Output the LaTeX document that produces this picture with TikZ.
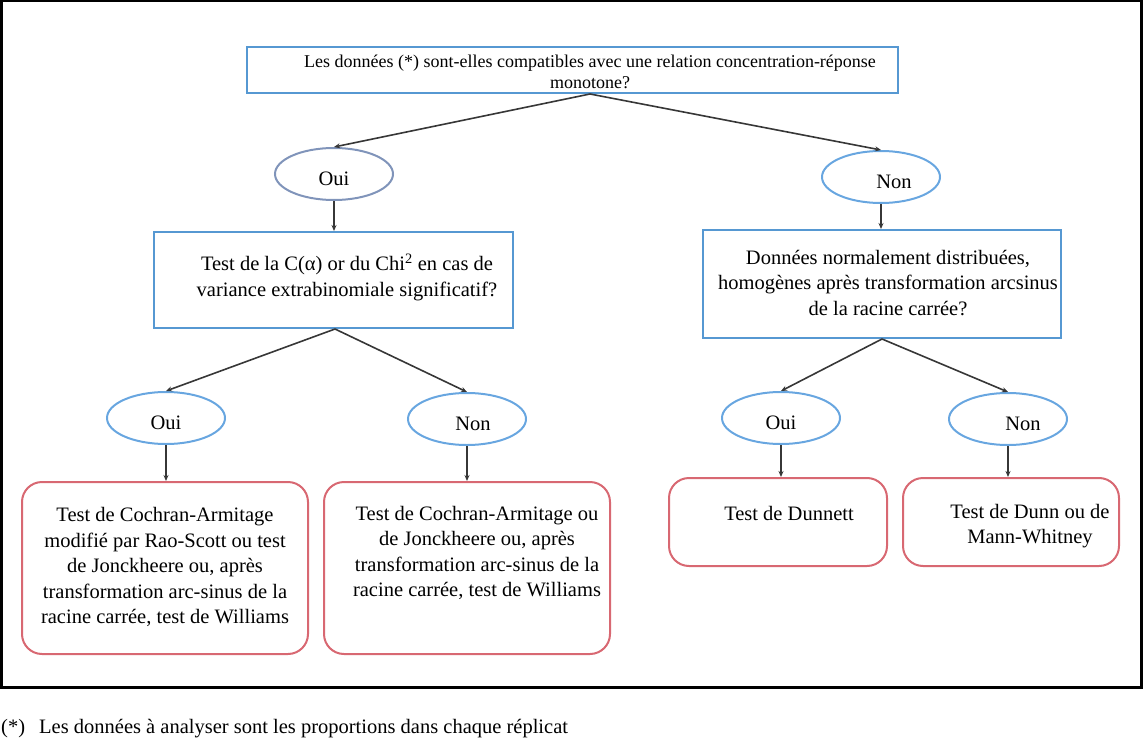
\documentclass[tikz,border=0pt]{standalone}
\usepackage{fontspec}
\setmainfont{Liberation Serif}
\usetikzlibrary{arrows.meta,shapes.geometric}
\definecolor{qblue}{RGB}{86,152,210}
\definecolor{ogray}{RGB}{128,148,186}
\definecolor{oblue}{RGB}{104,166,224}
\definecolor{rred}{RGB}{216,104,114}
\definecolor{arrowgray}{RGB}{55,55,55}
\tikzset{
  qbox/.style={draw=qblue, line width=2pt, rectangle, inner sep=0pt},
  oval/.style={draw=oblue, line width=2pt, ellipse, minimum width=118pt, minimum height=52pt, inner sep=0pt, text height=22pt, text depth=0pt, font=\fontsize{20.5}{24}\selectfont},
  rbox/.style={draw=rred, line width=2pt, rounded corners=20pt, inner sep=0pt},
  txt/.style={align=center, inner sep=0pt, font=\fontsize{20.5}{25.5}\selectfont},
  flow/.style={-{Stealth[length=6pt,width=5pt]}, draw=arrowgray, line width=1.6pt},
}
\begin{document}
\begin{tikzpicture}[x=1pt, y=-1pt]
    \useasboundingbox (0,0) rectangle (1143,741);
    \draw[line width=2.5pt] (1.25,1.25) rectangle (1141.5,687.5);
    % question boxes
    \node[qbox, minimum width=651pt, minimum height=46pt] (q0) at (572.5,70) {};
    \node[txt, font=\fontsize{18}{21}\selectfont] (q0t) at (590,72) {Les données (*) sont-elles compatibles avec une relation concentration-réponse\\monotone?};
    \node[qbox, minimum width=359pt, minimum height=96pt] (q1) at (333.5,280) {};
    \node[txt] (q1t) at (347,277) {Test de la C(α) or du Chi\textsuperscript{2} en cas de\\variance extrabinomiale significatif?};
    \node[qbox, minimum width=358pt, minimum height=108pt] (q2) at (882,284) {};
    \node[txt] (q2t) at (888,283) {Données normalement distribuées,\\homogènes après transformation arcsinus\\de la racine carrée?};
    % answers
    \node[oval, draw=ogray] (o1) at (334,174) {Oui};
    \node[oval] (n1) at (881,177) {\hspace*{26pt}Non};
    \node[oval] (o2) at (166,418) {Oui};
    \node[oval] (n2) at (467,419) {\hspace*{12pt}Non};
    \node[oval] (o3) at (781,418) {Oui};
    \node[oval] (n3) at (1008,419) {\hspace*{30pt}Non};
    % tests
    \node[rbox, minimum width=286pt, minimum height=172pt] (r1) at (165,568) {};
    \node[txt] (r1t) at (165,567) {Test de Cochran-Armitage\\modifié par Rao-Scott ou test\\de Jonckheere ou, après\\transformation arc-sinus de la\\racine carrée, test de Williams};
    \node[rbox, minimum width=286pt, minimum height=172pt] (r2) at (467,568) {};
    \node[txt] (r2t) at (477,553) {Test de Cochran-Armitage ou\\de Jonckheere ou, après\\transformation arc-sinus de la\\racine carrée, test de Williams};
    \node[rbox, minimum width=218pt, minimum height=88pt] (r3) at (778,522) {};
    \node[txt] (r3t) at (789,513) {Test de Dunnett};
    \node[rbox, minimum width=216pt, minimum height=88pt] (r4) at (1011,522) {};
    \node[txt] (r4t) at (1030,526) {Test de Dunn ou de\\Mann-Whitney};
    % footnote
    \node[txt, anchor=base west] (star) at (1,733) {(*)};
    \node[txt, anchor=base west] (note) at (39,733) {Les données à analyser sont les proportions dans chaque réplicat};
    % arrows
    \draw[flow] ([xshift=17.5pt]q0.south) -- (o1.north);
    \draw[flow] ([xshift=17.5pt]q0.south) -- (n1.north);
    \draw[flow] (o1.south) -- (o1.south |- q1.north);
    \draw[flow] (n1.south) -- (n1.south |- q2.north);
    \draw[flow] ([xshift=1.5pt]q1.south) -- (o2.north);
    \draw[flow] ([xshift=1.5pt]q1.south) -- (n2.north);
    \draw[flow] (q2.south) -- (o3.north);
    \draw[flow] (q2.south) -- (n3.north);
    \draw[flow] (o2.south) -- (o2.south |- r1.north);
    \draw[flow] (n2.south) -- (n2.south |- r2.north);
    \draw[flow] (o3.south) -- (o3.south |- r3.north);
    \draw[flow] (n3.south) -- (n3.south |- r4.north);
\end{tikzpicture}
\end{document}
